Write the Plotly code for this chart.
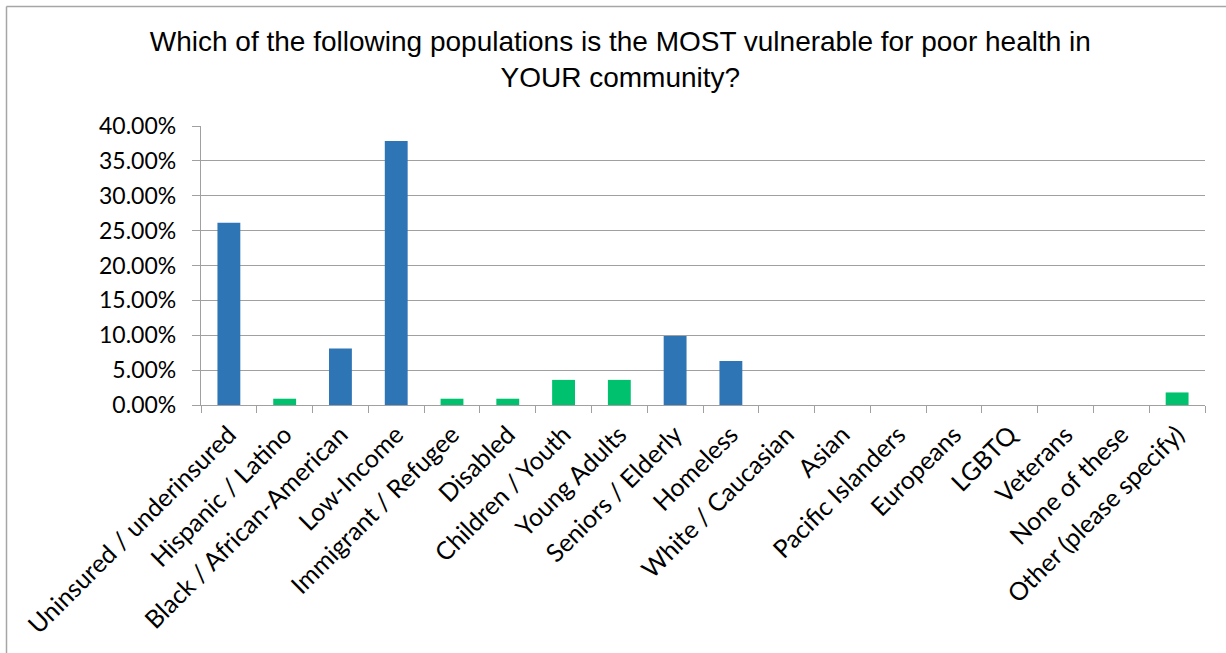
import plotly.graph_objects as go

categories = [
    "Uninsured / underinsured", "Hispanic / Latino", "Black / African-American",
    "Low-Income", "Immigrant / Refugee", "Disabled", "Children / Youth",
    "Young Adults", "Seniors / Elderly", "Homeless", "White / Caucasian",
    "Asian", "Pacific Islanders", "Europeans", "LGBTQ", "Veterans",
    "None of these", "Other (please specify)",
]
values = [0.2613, 0.0090, 0.0811, 0.3784, 0.0090, 0.0090, 0.0360, 0.0360,
          0.0991, 0.0631, 0.0, 0.0, 0.0, 0.0, 0.0, 0.0, 0.0, 0.0180]
groups = ["blue", "green", "blue", "blue", "green", "green", "green", "green",
          "blue", "blue", "blue", "blue", "blue", "blue", "blue", "blue", "blue", "green"]

palette = {"blue": "#2E75B6", "green": "#00C26E"}
colors = [palette[g] for g in groups]

W, H = 1226, 653
L, R, T, B = 201, 21, 126, 248
pw, ph = W - L - R, H - T - B

fig = go.Figure(go.Bar(x=categories, y=values, marker_color=colors, width=0.41,
                       marker_line_width=0))

grid = "#A0A0A0"
fig.update_layout(
    width=W, height=H,
    margin=dict(l=L, r=R, t=T, b=B),
    paper_bgcolor="white", plot_bgcolor="white",
    showlegend=False,
    title=dict(
        text="Which of the following populations is the MOST vulnerable for poor health in<br>YOUR community?",
        x=0.506, xref="container", xanchor="center",
        y=1 - 51 / H, yref="container", yanchor="top",
        font=dict(family="Liberation Sans, Arial", size=28, color="black"),
    ),
    font=dict(family="Lato", size=23, color="black"),
)
fig.update_yaxes(
    range=[0, 0.4], dtick=0.05, tickformat=".2%",
    showgrid=True, gridcolor=grid, gridwidth=1.3,
    showline=True, linecolor=grid, linewidth=1.3,
    ticks="outside", ticklen=8, tickcolor=grid, ticklabelstandoff=11,
    zeroline=False, tickfont=dict(family="Lato", size=23, color="black"),
)
fig.update_xaxes(
    type="category", tickangle=-45, tickson="boundaries",
    ticks="outside", ticklen=7, tickcolor=grid, ticklabelstandoff=4,
    showline=True, linecolor=grid, linewidth=1.3,
    showgrid=False,
    tickfont=dict(family="Lato", size=25, color="black"),
)

bx = (6.5 - L) / pw
by = (T + ph - 6.5) / ph
fig.add_shape(type="line", xref="paper", yref="paper", x0=bx, x1=bx, y0=by, y1=-1.0,
              line=dict(color="#A6A6A6", width=1.5))
fig.add_shape(type="line", xref="paper", yref="paper", x0=bx, x1=1.1, y0=by, y1=by,
              line=dict(color="#A6A6A6", width=1.5))

fig.write_html("out.html", config={"displayModeBar": False},
               post_script="document.body.style.margin='0';document.body.style.overflow='hidden';")
